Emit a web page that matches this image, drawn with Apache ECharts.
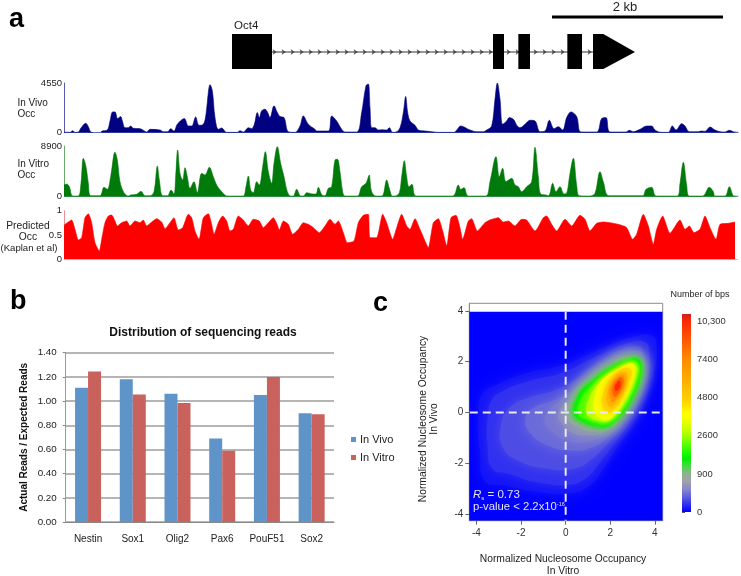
<!DOCTYPE html>
<html><head><meta charset="utf-8">
<style>html,body{margin:0;padding:0;background:#fff}#c{width:741px;height:576px}</style>
<script src="https://cdn.jsdelivr.net/npm/echarts@6/dist/echarts.min.js"></script>
</head><body><div id="c"></div>
<script>
const FONT='"Liberation Sans",Arial,sans-serif';
// ---------- panel a: gene model (positions in track bins) ----------
const exonSpans=[[696,816],[1479,1512],[1555,1590],[1702,1746]];
const arrowSpan=[1779,1810,1905];
const intronSpan=[816,1779];
const scaleBar=[1656,2169];
// ---------- panel a: tracks, [bin, height] ----------
const vivoScale=[0,4550], vitroScale=[0,8900], predScale=[0,0.5,1];
const vivoLeft=[[192,2],[205,1],[210,1],[218,6],[225,1],[235,2],[243,14],[257,28],[265,18],[272,3],[285,0],[302,0],[306,5],[322,8],[330,35],[338,62],[345,62],[353,42],[362,48],[367,35],[375,15],[385,15],[392,20],[400,13],[420,12],[432,6],[440,2],[450,10],[480,8],[490,3],[503,3],[512,12],[522,5],[532,25],[553,42],[565,20],[575,20],[587,47],[597,22],[610,25],[618,55],[625,120],[630,143],[637,125],[645,45],[655,10],[665,14],[680,1],[712,1],[720,6],[730,2],[745,15],[755,12],[763,25],[772,60],[778,45],[785,65],[795,70],[803,60],[810,45],[822,80],[832,60],[840,48],[852,45],[865,3],[885,1],[900,20],[910,50],[925,25],[945,10],[950,5],[985,5],[995,50],[1010,35],[1025,10],[1035,2],[1070,2],[1085,60],[1098,140],[1105,145]];
const vivoRight=[[0,75],[5,15],[15,15],[25,8],[35,9],[50,8],[58,15],[68,1],[78,2],[90,15],[100,60],[107,108],[113,60],[120,35],[135,22],[145,8],[165,5],[185,3],[205,1],[252,1],[262,10],[272,20],[300,8],[320,3],[340,3],[350,8],[365,20],[375,100],[382,148],[390,100],[398,25],[410,35],[418,45],[432,38],[440,22],[450,15],[465,25],[480,37],[495,35],[510,3],[525,5],[538,37],[552,12],[565,18],[578,8],[590,45],[603,62],[620,48],[633,2],[680,2],[695,42],[708,45],[720,2],[768,2],[778,7],[790,3],[810,10],[830,20],[845,20],[855,8],[875,1],[895,1],[907,20],[918,8],[935,27],[945,20],[958,3],[985,3],[995,5],[1005,4],[1020,17],[1035,8],[1050,3],[1065,2],[1078,7],[1090,3],[1105,1]];
const vitroLeft=[[192,35],[200,38],[208,30],[218,2],[235,2],[243,40],[250,115],[258,90],[265,40],[272,3],[300,3],[312,28],[322,22],[332,60],[345,133],[352,110],[360,45],[372,12],[385,2],[392,5],[410,7],[423,16],[435,3],[450,3],[462,15],[472,92],[478,50],[488,3],[503,3],[513,20],[522,8],[527,60],[533,140],[540,70],[548,50],[555,87],[562,60],[570,25],[582,45],[592,12],[605,70],[615,65],[628,88],[640,60],[650,35],[665,15],[682,2],[712,2],[730,2],[738,30],[745,62],[752,20],[760,12],[770,45],[778,35],[788,90],[796,135],[805,75],[815,40],[822,100],[832,150],[842,100],[852,60],[862,15],[872,2],[880,2],[890,22],[902,2],[912,3],[920,12],[940,8],[948,8],[955,28],[966,5],[975,3],[985,25],[995,30],[1005,110],[1012,112],[1020,75],[1028,15],[1035,2],[1072,2],[1085,30],[1098,40],[1108,65]];
const vitroRight=[[0,50],[5,15],[18,2],[36,2],[50,50],[58,25],[67,2],[75,2],[88,12],[95,60],[103,108],[110,60],[117,30],[126,37],[138,2],[248,2],[265,35],[272,22],[282,27],[295,2],[347,2],[360,45],[378,120],[388,60],[398,85],[408,45],[425,55],[435,35],[445,30],[455,15],[470,30],[485,45],[495,148],[505,60],[512,8],[528,5],[536,3],[548,40],[558,15],[570,30],[582,8],[590,10],[600,70],[610,115],[620,35],[628,3],[660,2],[675,10],[690,75],[700,45],[717,3],[818,3],[828,22],[845,28],[858,2],[922,2],[930,40],[940,103],[950,35],[958,2],[998,2],[1018,28],[1030,15],[1035,2],[1065,2],[1078,30],[1092,2],[1105,2]];
const predLeft=[[192,100],[195,105],[205,112],[215,118],[225,90],[235,58],[245,65],[255,125],[265,137],[275,110],[285,50],[298,25],[305,60],[315,110],[325,130],[335,133],[345,115],[352,100],[365,110],[380,115],[390,100],[405,115],[420,110],[430,118],[440,100],[455,112],[470,122],[485,112],[495,92],[510,110],[522,125],[535,88],[548,95],[565,135],[575,125],[585,85],[597,60],[610,125],[625,137],[635,105],[642,75],[655,110],[668,130],[680,115],[690,85],[700,90],[715,130],[730,118],[745,100],[760,120],[778,115],[790,95],[805,110],[820,125],[830,108],[838,88],[850,115],[865,105],[878,75],[895,90],[910,110],[925,105],[940,95],[958,80],[975,100],[990,120],[1005,105],[1015,115],[1030,80],[1042,50],[1062,55],[1075,110],[1090,132],[1105,135]];
const predRight=[[0,65],[20,65],[38,135],[50,110],[68,60],[80,95],[95,135],[110,100],[120,90],[135,122],[150,90],[165,55],[175,35],[190,110],[205,122],[218,85],[230,40],[243,125],[258,132],[270,95],[278,60],[295,115],[305,122],[322,85],[345,110],[365,120],[385,125],[400,112],[415,115],[435,100],[455,120],[470,118],[495,85],[520,125],[530,130],[545,105],[560,85],[585,120],[605,100],[630,132],[645,120],[660,85],[680,108],[700,112],[720,110],[745,105],[770,95],[788,60],[800,75],[820,135],[835,100],[850,45],[860,90],[878,130],[900,78],[930,118],[945,90],[958,100],[972,80],[990,90],[1005,130],[1020,95],[1038,60],[1050,105],[1075,108],[1095,112]];
// ---------- panel b ----------
const genes=['Nestin','Sox1','Olig2','Pax6','PouF51','Sox2'];
const inVivo=[1.11,1.18,1.06,0.69,1.05,0.90];
const inVitro=[1.245,1.055,0.985,0.59,1.20,0.89];
// ---------- panel c: density contours, [colour-scale level, outline in (in vitro, in vivo)] ----------
const barTicks=[0,1,2,3,4,5];
const barLabels=['0','900','2600','4800','7400','10,300'];
const barRange=[0,5.2];
const barStops=['#0000ff','#3030f0','#6060e0','#8888c8','#a0a0b0','#90b090','#48d848','#00f000','#28fa00','#60ff00','#a0ff00','#ccff00','#f0ff00','#ffff00','#ffe000','#ffcc00','#ffc000','#ffb000','#ffa400','#ff9800','#ff8c00','#ff7800','#ff6400','#ff5000','#ff3c00','#ff2a00','#cc2020'];
const ringLevels=[0,0.08,0.2,0.32,0.45,0.52,0.64,0.85,1.1,1.4,1.7,2.1,2.5,2.9,3.3,3.8,4.4,5];
const ring0=[[-4.35,-4.3],[4.35,-4.3],[4.35,3.97],[-4.35,3.97]];
const ring1=[[3.93,3.0],[4.07,2.67],[4.0,1.75],[3.7,.83],[3.18,-.22],[2.28,-1.41],[1.69,-2.2],[1.09,-2.86],[.19,-3.18],[-1.3,-3.12],[-2.79,-2.86],[-3.61,-2.72],[-3.84,-1.54],[-3.91,-.22],[-3.76,.7],[-3.09,1.09],[-1.75,1.55],[-.1,1.88],[1.69,2.54],[3.18,3.0]];
const ring2=[[3.6,2.75],[3.75,2.3],[3.7,1.5],[3.4,.7],[3.0,-.2],[2.2,-1.2],[1.5,-2],[.9,-2.6],[.1,-2.85],[-1.3,-2.75],[-2.6,-2.4],[-3.3,-2.2],[-3.5,-1.3],[-3.5,-.2],[-3.3,.5],[-2.8,.85],[-1.6,1.25],[-.2,1.55],[1.5,2.25],[2.9,2.75]];
const ring3=[[3.5,2.4],[3.6,1.6],[3.3,.6],[2.75,-.3],[2.0,-1.1],[1.2,-1.8],[.4,-2.2],[-.9,-2.2],[-2.1,-1.9],[-2.8,-1.4],[-2.9,-.5],[-2.5,.2],[-1.6,.6],[-.6,.85],[.3,1.2],[1.3,1.85],[2.4,2.45],[3.2,2.6]];
const ring4=[[3.45,2.3],[3.5,1.6],[3.2,.6],[2.6,-.3],[1.9,-.95],[1.1,-1.4],[.2,-1.5],[-.8,-1.3],[-1.6,-.8],[-1.8,-.2],[-1.4,.2],[-.6,.45],[.1,.75],[.7,1.2],[1.4,1.75],[2.4,2.3],[3.1,2.45]];
const ring4b=[[3.43,2.15],[3.47,1.55],[3.18,.65],[2.55,-.25],[1.85,-.85],[1.05,-1.15],[.25,-1.15],[-.5,-.85],[-.95,-.35],[-.75,.1],[-.25,.45],[.3,.85],[.85,1.3],[1.6,1.85],[2.65,2.3]];
const ring5=[[3.42,2.05],[3.45,1.5],[3.15,.7],[2.5,-.2],[1.8,-.75],[1.0,-.9],[.3,-.8],[-.2,-.4],[-.3,0],[.1,.5],[.55,1.0],[1.2,1.5],[2,1.95],[2.9,2.25]];
const ring5b=[[3.41,2.0],[3.42,1.45],[3.12,.7],[2.6,-.05],[2.0,-.65],[1.2,-.75],[.5,-.55],[.05,-.25],[0,.1],[.25,.5],[.6,.95],[1.15,1.35],[1.75,1.75],[2.65,2.2]];
const ring6=[[3.4,1.92],[3.38,1.4],[3.1,.72],[2.7,.12],[2.25,-.34],[1.85,-.6],[1.35,-.6],[.75,-.43],[.35,-.2],[.28,.1],[.43,.52],[.68,.9],[1.05,1.2],[1.5,1.53],[1.96,1.8],[2.4,2.0],[2.88,2.15],[3.2,2.18]];
const ring7=[[3.18,2.14],[2.88,2.1],[2.43,1.95],[1.99,1.75],[1.54,1.49],[1.09,1.16],[.72,.89],[.49,.5],[.34,.1],[.42,-.16],[.79,-.36],[1.39,-.53],[1.87,-.53],[2.28,-.29],[2.73,.17],[3.1,.76],[3.36,1.42],[3.4,1.88]];
const ring8=[[3.1,2.0],[2.8,1.95],[2.4,1.8],[2,1.6],[1.55,1.33],[1.15,1.02],[.85,.75],[.65,.42],[.55,.08],[.62,-.12],[.9,-.25],[1.4,-.38],[1.8,-.38],[2.2,-.15],[2.6,.25],[2.95,.8],[3.2,1.4],[3.27,1.8]];
const ring9=[[2.9,1.95],[2.6,1.78],[2.15,1.55],[1.65,1.25],[1.25,.9],[1.05,.55],[.92,.1],[1.1,-.2],[1.6,-.33],[1.9,-.33],[2.25,-.08],[2.6,.35],[2.95,.95],[3.15,1.5],[3.18,1.8]];
const ring10=[[2.8,1.92],[2.43,1.75],[1.91,1.49],[1.51,1.16],[1.31,.63],[1.27,.1],[1.54,-.22],[1.91,-.26],[2.28,.04],[2.66,.57],[2.96,1.16],[3.1,1.62],[3.03,1.88]];
const ring11=[[2.73,1.75],[2.28,1.55],[1.91,1.22],[1.69,.76],[1.64,.3],[1.87,0],[2.21,.17],[2.58,.7],[2.85,1.29],[2.96,1.62]];
const ring12=[[2.6,1.6],[2.3,1.42],[2.05,1.15],[1.88,.78],[1.85,.4],[1.98,.2],[2.18,.3],[2.4,.65],[2.63,1.1],[2.75,1.45]];
const ring13=[[2.55,1.5],[2.3,1.3],[2.1,1.05],[2.0,.75],[2.02,.5],[2.15,.42],[2.32,.62],[2.5,.95],[2.62,1.3]];
const ring14=[[2.48,1.4],[2.3,1.25],[2.15,1.0],[2.12,.75],[2.22,.62],[2.35,.75],[2.48,1.0],[2.55,1.25]];
const ring15=[[2.42,1.25],[2.28,1.15],[2.2,.98],[2.25,.85],[2.35,.9],[2.45,1.05]];
const rings=[ring0,ring1,ring2,ring3,ring4,ring4b,ring5,ring5b,ring6,ring7,ring8,ring9,ring10,ring11,ring12,ring13,ring14,ring15];
const heatTicks=[-4,-2,0,2,4];

const RIGHT_OFFSET=1110;
const track=(l,r,scale)=>l.concat(r.map(p=>[p[0]+RIGHT_OFFSET,p[1]])).map(p=>[p[0],p[1]*scale]);
const vivoData=track(vivoLeft,vivoRight,4550/148);
const vitroData=track(vitroLeft,vitroRight,8900/152);
const predData=track(predLeft,predRight,1/146);
const intronMarks=[];for(let b=intronSpan[0]+8;b<intronSpan[1];b+=27)intronMarks.push([b,18]);

const chart=echarts.init(document.getElementById('c'),null,{renderer:'canvas'});
const trackAxisX=(i,col)=>({gridIndex:i,type:'value',min:192,max:2214,show:true,axisLine:{show:true,onZero:false,lineStyle:{color:col,width:1}},axisTick:{show:false},axisLabel:{show:false},splitLine:{show:false}});
const trackAxisY=(i,ticks,col)=>({gridIndex:i,type:'value',min:0,max:ticks[ticks.length-1],axisLine:{show:true,lineStyle:{color:col,width:1}},axisTick:{show:false,customValues:ticks},splitLine:{show:false},axisLabel:{customValues:ticks,formatter:v=>String(v),fontFamily:FONT,fontSize:9.5,color:'#222',margin:2,hideOverlap:false,showMinLabel:true,showMaxLabel:true}});
const trackSeries=(i,name,data,col,sm)=>({type:'line',name,xAxisIndex:i,yAxisIndex:i,data,symbol:'none',smooth:sm,silent:true,lineStyle:{width:0.6,color:col},itemStyle:{color:col},areaStyle:{color:col,opacity:1,origin:'start'},animation:false});
const txt=(x,y,text,o)=>({type:'text',x,y,z:100,silent:true,style:Object.assign({text,fontFamily:FONT,fontSize:10,fill:'#222',align:'left',verticalAlign:'middle'},o||{})});
const G=o=>Object.assign({outerBoundsMode:'none',containLabel:false},o);

const ringsIndex=9;
chart.setOption({
 animation:false,
 backgroundColor:'#fff',
 textStyle:{fontFamily:FONT},
 title:{text:'Distribution of sequencing reads',left:198,top:322,textAlign:'center',textStyle:{fontFamily:FONT,fontSize:12,fontWeight:'bold',color:'#111'}},
 legend:{data:['In Vivo','In Vitro'],left:351,top:434,orient:'vertical',itemWidth:5,itemHeight:5,itemGap:7,icon:'rect',padding:0,textStyle:{fontFamily:FONT,fontSize:11,color:'#222',padding:[0,0,0,-1]}},
 visualMap:[{type:'continuous',show:false,seriesIndex:ringsIndex,dimension:1,min:barRange[0],max:barRange[1],inRange:{color:barStops}}],
 grid:[
  G({left:64,top:10,width:674,height:60}),
  G({left:64,top:83,width:674,height:49.7}),
  G({left:64,top:146,width:674,height:50.7}),
  G({left:64,top:210.7,width:674,height:48.6}),
  G({left:65.7,top:352.7,width:268.3,height:169.3}),
  G({left:469.3,top:303.3,width:193.4,height:217.4,show:true,borderColor:'#8a8a92',borderWidth:1,backgroundColor:'#fff'}),
  G({left:682,top:314,width:9,height:198})
 ],
 xAxis:[
  {gridIndex:0,type:'value',min:192,max:2214,show:false},
  trackAxisX(1,'#a8d8f0'),trackAxisX(2,'#a8d8f0'),trackAxisX(3,'#f0b8c8'),
  {gridIndex:4,type:'category',data:genes,axisLine:{lineStyle:{color:'#8a8a8a',width:1}},axisTick:{length:3,lineStyle:{color:'#8a8a8a'}},axisLabel:{interval:0,fontFamily:FONT,fontSize:10,color:'#222',margin:12}},
  {gridIndex:5,type:'value',min:-4.32,max:4.35,position:'bottom',axisLine:{show:true,onZero:false,lineStyle:{color:'#8a8a92'}},axisTick:{show:true,length:4,inside:false,customValues:heatTicks,lineStyle:{color:'#666'}},axisLabel:{customValues:heatTicks,fontFamily:FONT,fontSize:10,color:'#333',margin:8},splitLine:{show:false},
   name:'Normalized Nucleosome Occupancy\nIn Vitro',nameLocation:'middle',nameGap:32,nameTextStyle:{fontFamily:FONT,fontSize:10.3,color:'#222',lineHeight:12,padding:[0,6,0,0]}},
  {gridIndex:6,type:'value',min:0,max:1,show:false}
 ],
 yAxis:[
  {gridIndex:0,type:'value',min:0,max:60,show:false},
  trackAxisY(1,vivoScale,'#5a5ab0'),trackAxisY(2,vitroScale,'#6aa86a'),trackAxisY(3,predScale,'#f09090'),
  {gridIndex:4,type:'value',min:0,max:1.4,interval:0.2,axisLine:{show:true,lineStyle:{color:'#9c9c9c',width:1}},axisTick:{show:true,length:3,lineStyle:{color:'#8a8a8a'}},splitLine:{lineStyle:{color:'#9c9c9c',width:1.5}},axisLabel:{fontFamily:FONT,fontSize:9.8,color:'#222',margin:9,formatter:v=>v.toFixed(2)},
   name:'Actual Reads / Expected Reads',nameLocation:'middle',nameGap:36,nameRotate:90,nameTextStyle:{fontFamily:FONT,fontSize:10,fontWeight:'bold',color:'#111'}},
  {gridIndex:5,type:'value',min:-4.26,max:4.30,axisLine:{show:true,onZero:false,lineStyle:{color:'#8a8a92'}},axisTick:{show:true,length:4,customValues:heatTicks,lineStyle:{color:'#666'}},axisLabel:{customValues:heatTicks,fontFamily:FONT,fontSize:10,color:'#333',margin:6},splitLine:{show:false},
   name:'Normalized Nucleosome Occupancy\nIn Vivo',nameLocation:'middle',nameGap:30,nameRotate:90,nameTextStyle:{fontFamily:FONT,fontSize:10.3,color:'#222',lineHeight:11,padding:[0,14,0,0]}},
  {gridIndex:6,type:'value',min:barRange[0],max:barRange[1],position:'right',axisLine:{show:true,lineStyle:{color:'rgba(0,0,0,0)'}},axisTick:{show:true,length:3,customValues:barTicks,lineStyle:{color:'#555'}},axisLabel:{customValues:barTicks,fontFamily:FONT,fontSize:9.4,color:'#333',margin:6,formatter:v=>barLabels[barTicks.indexOf(v)]},splitLine:{show:false}}
 ],
 series:[
  {type:'line',xAxisIndex:0,yAxisIndex:0,data:[[intronSpan[0],18],[intronSpan[1],18]],symbol:'none',lineStyle:{color:'#777',width:1.6},silent:true,z:2},
  {type:'scatter',xAxisIndex:0,yAxisIndex:0,data:intronMarks,symbol:'path://M0,0L5,5L0,10L1.2,5Z',symbolSize:[4,6],itemStyle:{color:'#333'},silent:true,z:3},
  {type:'custom',xAxisIndex:0,yAxisIndex:0,data:exonSpans,silent:true,z:4,encode:{x:[0,1]},clip:false,renderItem(p,api){
    const a=api.coord([api.value(0),36]),b=api.coord([api.value(1),1]);
    return {type:'rect',shape:{x:a[0],y:a[1],width:b[0]-a[0],height:b[1]-a[1]},style:{fill:'#000'}};}},
  {type:'custom',xAxisIndex:0,yAxisIndex:0,data:[arrowSpan],silent:true,z:4,encode:{x:[0,1,2]},clip:false,renderItem(p,api){
    const s=api.value(0),m=api.value(1),e=api.value(2);
    const pts=[[s,36],[m,36],[e,18],[m,1],[s,1]].map(q=>api.coord(q));
    return {type:'polygon',shape:{points:pts},style:{fill:'#000'}};}},
  {type:'line',xAxisIndex:0,yAxisIndex:0,data:[[scaleBar[0],53],[scaleBar[1],53]],symbol:'none',lineStyle:{color:'#000',width:3},silent:true},
  trackSeries(1,'In Vivo Occ',vivoData,'#000080',0.35),
  trackSeries(2,'In Vitro Occ',vitroData,'#007a0a',0.35),
  trackSeries(3,'Predicted Occ',predData,'#ff0000',0.2),
  {type:'bar',name:'In Vivo',xAxisIndex:4,yAxisIndex:4,data:inVivo,barWidth:13,barGap:'0%',itemStyle:{color:'#5f94c8'},z:3},
  {type:'custom',name:'density',xAxisIndex:5,yAxisIndex:5,data:ringLevels.map((l,i)=>[i,l]),silent:true,clip:true,z:2,encode:{x:[],y:[]},renderItem(p,api){
    const i=api.value(0),col=api.visual('color');
    const pts=rings[i].map(q=>api.coord(q));
    return {type:'polygon',z2:i,shape:{points:pts,smooth:i===0?0:0.5},style:{fill:col,shadowBlur:i===0?0:(i<9?12:6),shadowColor:col},clipPath:{type:'rect',shape:{x:p.coordSys.x,y:p.coordSys.y,width:p.coordSys.width,height:p.coordSys.height}}};}},
  {type:'bar',name:'In Vitro',xAxisIndex:4,yAxisIndex:4,data:inVitro,barWidth:13,barGap:'0%',itemStyle:{color:'#c9625d'},z:3},
  {type:'line',xAxisIndex:5,yAxisIndex:5,data:[[0,3.97],[0,-4.26]],symbol:'none',lineStyle:{color:'#eaeaf4',width:2,type:[8,5]},silent:true,z:5},
  {type:'line',xAxisIndex:5,yAxisIndex:5,data:[[-4.3,0],[4.3,0]],symbol:'none',lineStyle:{color:'#eaeaf4',width:2,type:[8,5]},silent:true,z:5},
  {type:'custom',name:'colour bar',xAxisIndex:6,yAxisIndex:6,data:[barRange],silent:true,clip:false,z:2,encode:{y:[0,1]},renderItem(p,api){
    const top=api.coord([0,api.value(1)]),bot=api.coord([0,api.value(0)]);
    const stops=barStops.map((color,k)=>({offset:k/(barStops.length-1),color}));
    return {type:'rect',shape:{x:p.coordSys.x,y:top[1],width:p.coordSys.width,height:bot[1]-top[1]},style:{fill:new echarts.graphic.LinearGradient(0,1,0,0,stops)}};}}
 ],
 graphic:{elements:[
  txt(9,20,'a',{fontSize:27,fontWeight:'bold',fill:'#000'}),
  txt(10,302,'b',{fontSize:27,fontWeight:'bold',fill:'#000'}),
  txt(373,304,'c',{fontSize:27,fontWeight:'bold',fill:'#000'}),
  txt(625,7,'2 kb',{fontSize:13,align:'center'}),
  txt(234,26,'Oct4',{fontSize:11.5}),
  txt(17.5,103,'In Vivo'),txt(17.5,114,'Occ'),
  txt(17.5,164,'In Vitro'),txt(17.5,175,'Occ'),
  txt(28,226,'Predicted',{align:'center',fontSize:10.3}),txt(28,237,'Occ',{align:'center',fontSize:10.3}),txt(29,248,'(Kaplan et al)',{align:'center',fontSize:9.6}),
  txt(700,295,'Number of bps',{align:'center',fontSize:9}),
  {type:'text',x:473,y:495,z:100,silent:true,style:{text:'{i|R}{s|s}{n| = 0.73}',fontFamily:FONT,verticalAlign:'middle',rich:{i:{fontStyle:'italic',fontSize:11.5,fill:'#e4e4f6',fontFamily:FONT},s:{fontSize:6,fill:'#e4e4f6',verticalAlign:'bottom',fontFamily:FONT},n:{fontSize:11.5,fill:'#e4e4f6',fontFamily:FONT}}}},
  {type:'text',x:473,y:507,z:100,silent:true,style:{text:'{n|p-value < 2.2x10}{s|-16}',fontFamily:FONT,verticalAlign:'middle',rich:{n:{fontSize:11.3,fill:'#e4e4f6',fontFamily:FONT},s:{fontSize:5.5,fill:'#e4e4f6',verticalAlign:'top',fontFamily:FONT}}}}
 ]}
});
</script></body></html>
